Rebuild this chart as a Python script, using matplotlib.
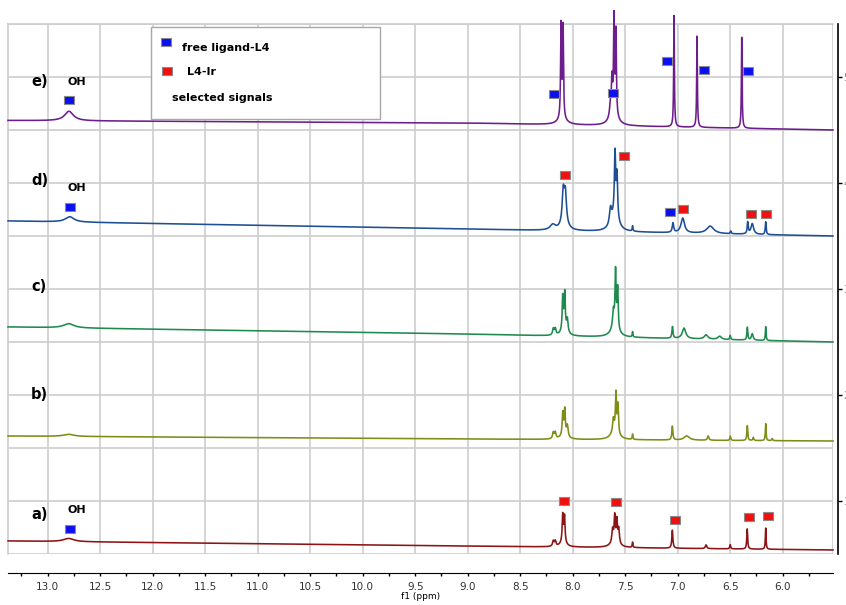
import numpy as np
import matplotlib
matplotlib.use('Agg')
import matplotlib.pyplot as plt
from matplotlib.patches import Rectangle
from matplotlib.ticker import MultipleLocator, FormatStrFormatter

# chemical shift window (ppm), drawn reversed
ppm_left, ppm_right = 13.378, 5.521

# spectra from bottom to top
labels = ['a)', 'b)', 'c)', 'd)', 'e)']
colors = ['#8c1414', '#7f8c16', '#1f8a4e', '#1d4f95', '#6e1d8c']

# baseline level at 5.52, 9.0 and 13.38 ppm
base_ppm = [5.521, 9.0, 13.378]
base_a = [0.538, 0.575, 0.623]
base_b = [1.566, 1.585, 1.613]
base_c = [2.500, 2.575, 2.642]
base_d = [3.500, 3.566, 3.642]
base_e = [4.500, 4.566, 4.590]

# peaks: (ppm, height, half width)
peaks_a = [(12.80, 0.03, 0.06), (8.185, 0.05, 0.008), (8.166, 0.05, 0.008),
           (8.095, 0.25, 0.006), (8.078, 0.24, 0.006), (8.09, 0.05, 0.03),
           (7.620, 0.12, 0.008), (7.600, 0.23, 0.006), (7.580, 0.20, 0.006),
           (7.562, 0.14, 0.008), (7.60, 0.06, 0.04), (7.430, 0.05, 0.004),
           (7.051, 0.17, 0.006), (6.73, 0.035, 0.008), (6.50, 0.04, 0.005),
           (6.338, 0.19, 0.005), (6.162, 0.20, 0.004)]
peaks_b = [(12.80, 0.02, 0.06), (8.185, 0.06, 0.008), (8.166, 0.06, 0.008),
           (8.095, 0.20, 0.006), (8.076, 0.22, 0.006), (8.051, 0.10, 0.008),
           (8.08, 0.06, 0.03), (7.613, 0.12, 0.008), (7.588, 0.36, 0.006),
           (7.569, 0.27, 0.006), (7.60, 0.08, 0.04), (7.430, 0.05, 0.004),
           (7.051, 0.13, 0.006), (6.914, 0.04, 0.03), (6.71, 0.04, 0.008),
           (6.499, 0.04, 0.005), (6.337, 0.14, 0.005), (6.28, 0.03, 0.005),
           (6.162, 0.16, 0.004), (6.10, 0.02, 0.005)]
peaks_c = [(12.80, 0.04, 0.06), (8.185, 0.06, 0.008), (8.166, 0.06, 0.008),
           (8.095, 0.31, 0.006), (8.076, 0.33, 0.006), (8.051, 0.12, 0.008),
           (8.08, 0.07, 0.03), (7.613, 0.15, 0.008), (7.592, 0.52, 0.006),
           (7.572, 0.38, 0.006), (7.60, 0.10, 0.04), (7.430, 0.05, 0.004),
           (7.05, 0.11, 0.006), (6.94, 0.10, 0.02), (6.73, 0.04, 0.02),
           (6.60, 0.03, 0.02), (6.50, 0.04, 0.005), (6.337, 0.12, 0.005),
           (6.29, 0.06, 0.01), (6.162, 0.13, 0.004)]
peaks_d = [(12.79, 0.05, 0.05), (8.19, 0.05, 0.03), (8.090, 0.30, 0.012),
           (8.070, 0.28, 0.012), (8.08, 0.06, 0.04), (7.640, 0.15, 0.012),
           (7.597, 0.58, 0.007), (7.578, 0.40, 0.007), (7.60, 0.15, 0.04),
           (7.43, 0.05, 0.004), (7.045, 0.09, 0.008), (6.952, 0.14, 0.02),
           (6.69, 0.07, 0.04), (6.495, 0.025, 0.005), (6.333, 0.11, 0.006),
           (6.29, 0.10, 0.015), (6.162, 0.12, 0.005)]
peaks_e = [(12.797, 0.09, 0.05), (8.111, 0.88, 0.005), (8.092, 0.86, 0.005),
           (8.10, 0.05, 0.05), (7.640, 0.12, 0.01), (7.626, 0.30, 0.006),
           (7.607, 0.88, 0.005), (7.588, 0.78, 0.005), (7.61, 0.12, 0.04),
           (7.035, 1.05, 0.004), (6.816, 0.86, 0.004), (6.390, 0.86, 0.004)]

bases = [base_a, base_b, base_c, base_d, base_e]
peaks = [peaks_a, peaks_b, peaks_c, peaks_d, peaks_e]

# marked signals (ppm, level)
free_ppm = [12.797, 8.181, 7.616, 7.102, 6.749, 6.333, 12.788, 7.076, 12.788]
free_y = [4.783, 4.837, 4.849, 5.151, 5.069, 5.059, 3.774, 3.724, 0.736]
ir_ppm = [8.070, 7.514, 6.952, 6.305, 6.159, 8.086, 7.590, 7.026, 6.321, 6.137]
ir_y = [4.075, 4.255, 3.755, 3.705, 3.705, 1.003, 0.988, 0.821, 0.852, 0.858]

# label positions
label_y = [0.868, 2.009, 3.019, 4.028, 4.953]
oh_y = [0.915, 3.953, 4.953]

W, H = 846, 605
fig = plt.figure(figsize=(W / 100, H / 100), dpi=100)
ax = fig.add_axes([8 / W, 1 - 554 / H, 825 / W, 530 / H])

grid_col = '#cdcdcd'
x = np.linspace(ppm_left, ppm_right, 16000)
for col, base, pk in zip(colors, bases, peaks):
    y = np.interp(x, base_ppm, base)
    for p0, h, w in pk:
        y = y + h / (1 + ((x - p0) / w) ** 2)
    ax.plot(x, y, color=col, lw=1.15, clip_on=False, zorder=3)

mk = [(-1.2, -1), (1.2, -1), (1.2, 1), (-1.2, 1), (-1.2, -1)]
ax.plot(free_ppm, free_y, ls='none', marker=mk, ms=7, mfc='#0a10f0',
        mec='#8a8a8a', mew=0.8, clip_on=False, zorder=5)
ax.plot(ir_ppm, ir_y, ls='none', marker=mk, ms=7, mfc='#f01010',
        mec='#8a8a8a', mew=0.8, clip_on=False, zorder=5)

for lab, ly in zip(labels, label_y):
    ax.text(13.159, ly, lab, fontsize=10.5, fontweight='bold', ha='left', va='center')
for oy in oh_y:
    ax.text(12.807, oy, 'OH', fontsize=8, fontweight='bold', ha='left', va='center')

ax.set_xlim(ppm_left, ppm_right)
ax.set_ylim(0.5, 5.5)

ax.xaxis.set_major_locator(MultipleLocator(0.5))
ax.xaxis.set_minor_locator(MultipleLocator(0.25))
ax.xaxis.set_major_formatter(FormatStrFormatter('%.1f'))
ax.yaxis.tick_right()
ax.yaxis.set_major_locator(MultipleLocator(1))
ax.yaxis.set_minor_locator(MultipleLocator(0.5))

ax.tick_params(axis='x', which='both', direction='out', length=2.3, width=1,
               labelsize=7.5, labelcolor='#333333', pad=4)
ax.tick_params(axis='y', which='major', direction='out', length=3, width=1,
               labelsize=7, labelcolor='#888888', pad=1)
ax.tick_params(axis='y', which='minor', length=0)

ax.set_axisbelow(True)
ax.xaxis.grid(True, which='major', color=grid_col, lw=1.2)
ax.yaxis.grid(True, which='both', color=grid_col, lw=1.2)
ax.axvline(ppm_right, color=grid_col, lw=1.2, zorder=0)

for s in ['left', 'top']:
    ax.spines[s].set_color(grid_col)
    ax.spines[s].set_linewidth(1.2)
ax.spines['bottom'].set_position(('outward', 13.7))
ax.spines['right'].set_position(('outward', 3.6))
ax.spines['right'].set_linewidth(1.2)

ax.set_xlabel('f1 (ppm)', fontsize=6.5, labelpad=0.5)

# legend box
box = Rectangle((151 / W, 1 - 119 / H), 229 / W, 92 / H, transform=fig.transFigure,
                facecolor='white', edgecolor='#a8a8a8', lw=1.0, zorder=6)
fig.patches.append(box)
fig.lines.append(plt.Line2D([166 / W], [1 - 42 / H], transform=fig.transFigure,
                            ls='none', marker=mk, ms=7, mfc='#0a10f0', mec='#8a8a8a',
                            mew=0.8, zorder=7))
fig.lines.append(plt.Line2D([167 / W], [1 - 71 / H], transform=fig.transFigure,
                            ls='none', marker=mk, ms=7, mfc='#f01010', mec='#8a8a8a',
                            mew=0.8, zorder=7))
fig.text(182 / W, 1 - 48 / H, 'free ligand-L4', fontsize=8, fontweight='bold', va='center', zorder=8)
fig.text(187 / W, 1 - 72 / H, 'L4-Ir', fontsize=8, fontweight='bold', va='center', zorder=8)
fig.text(172 / W, 1 - 98 / H, 'selected signals', fontsize=8, fontweight='bold', va='center', zorder=8)

plt.savefig('out.png', dpi=100)
